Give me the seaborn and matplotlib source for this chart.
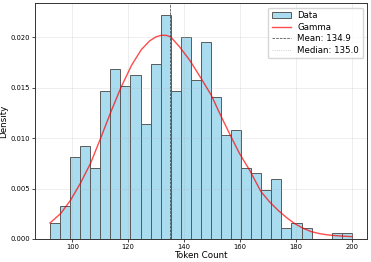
import numpy as np
import seaborn as sns
import matplotlib.pyplot as plt

# histogram of token counts (30 bins between min and max)
bin_lo, bin_hi, n_bins = 92, 200, 30
counts = [3, 6, 15, 17, 13, 27, 31, 28, 30, 21, 32, 41, 27, 37, 29,
          36, 26, 19, 20, 13, 12, 9, 11, 2, 3, 2, 0, 0, 1, 1]

# fitted gamma pdf
gamma_x = [92.0, 95.9, 99.4, 103.0, 106.5, 110.1, 113.8, 117.4, 121.2, 124.7,
           127.7, 130.0, 131.9, 133.8, 135.2, 138.4, 142.0, 146.1, 149.7, 153.3,
           156.8, 159.8, 163.4, 167.5, 170.5, 173.5, 176.5, 179.4, 182.4, 185.4,
           188.4, 191.3, 195.5, 200.0]
gamma_y = [0.00158, 0.00254, 0.00386, 0.00558, 0.00749, 0.00997, 0.01261, 0.01502, 0.01723, 0.01878,
           0.01965, 0.02005, 0.02020, 0.02018, 0.02003, 0.01904, 0.01772, 0.01591, 0.01426, 0.01211,
           0.01013, 0.00848, 0.00683, 0.00469, 0.00370, 0.00287, 0.00215, 0.00155, 0.00108, 0.00073,
           0.00053, 0.00040, 0.00030, 0.00023]

mean_val = 134.9
median_val = 135.0

width = (bin_hi - bin_lo) / n_bins
centers = bin_lo + width * (np.arange(n_bins) + 0.5)

fig, ax = plt.subplots(figsize=(3.71, 2.62), dpi=100)

sns.histplot(x=centers, weights=counts, bins=n_bins, binrange=(bin_lo, bin_hi),
             stat='density', color='skyblue', edgecolor='#5a5a5a', alpha=0.7,
             linewidth=0.7, label='Data', ax=ax)
sns.lineplot(x=gamma_x, y=gamma_y, color='red', alpha=0.7, linewidth=1,
             label='Gamma', ax=ax)
ax.axvline(mean_val, color='black', linestyle='--', linewidth=0.5, alpha=0.8,
           label=f'Mean: {mean_val:.1f}')
ax.axvline(median_val, color='gray', linestyle=':', linewidth=0.6, alpha=0.5,
           label=f'Median: {median_val:.1f}')

ax.set_xlabel('Token Count', fontsize=6.3, labelpad=1)
ax.set_ylabel('Density', fontsize=6.3, labelpad=1.5)
ax.tick_params(labelsize=4.9, length=2, width=0.5, pad=1.5)
ax.grid(alpha=0.3, linewidth=0.5)
for s in ax.spines.values():
    s.set_linewidth(0.7)
    s.set_color('#333333')

handles, labels = ax.get_legend_handles_labels()
order = ['Data', 'Gamma', f'Mean: {mean_val:.1f}', f'Median: {median_val:.1f}']
hmap = dict(zip(labels, handles))
ax.legend([hmap[k] for k in order], order, loc='upper right', fontsize=6.2,
          handlelength=2.2, borderpad=0.4, labelspacing=0.3)

plt.subplots_adjust(left=0.094, right=0.989, bottom=0.088, top=0.987)
plt.savefig('out.png', dpi=100)
